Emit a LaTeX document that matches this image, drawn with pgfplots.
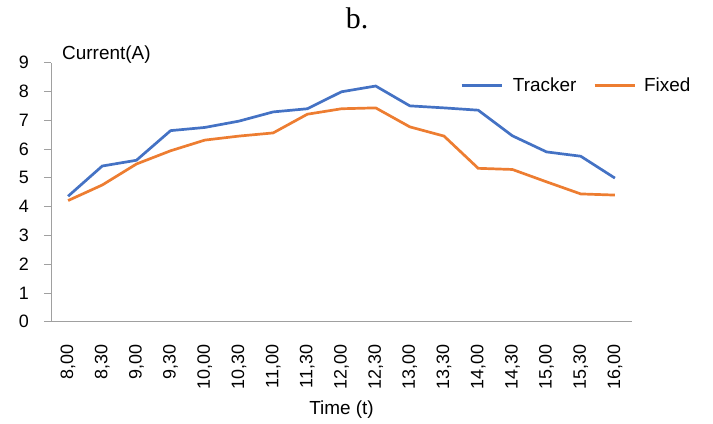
\documentclass[border=0pt]{standalone}
\usepackage{fontspec}
\setmainfont{Liberation Sans}
\newfontfamily\titleserif{Liberation Serif}
\usepackage{pgfplots}
\pgfplotsset{compat=1.18}
\definecolor{xblue}{HTML}{4472C4}
\definecolor{xorange}{HTML}{ED7D31}
\definecolor{axgray}{HTML}{A0A0A0}
\pgfplotstableread{
x tracker fixed
0 4.36 4.21
1 5.41 4.75
2 5.61 5.48
3 6.64 5.94
4 6.75 6.31
5 6.97 6.45
6 7.29 6.56
7 7.40 7.21
8 7.99 7.40
9 8.19 7.43
10 7.50 6.77
11 7.43 6.45
12 7.35 5.33
13 6.46 5.29
14 5.90 4.86
15 5.75 4.44
16 4.99 4.40
}\datatable
\begin{document}
\begin{tikzpicture}
\useasboundingbox (-51bp,-102.3bp) rectangle (662bp,321.7bp);
\begin{axis}[
  at={(0,0)}, anchor=south west,
  scale only axis, width=581bp, height=259bp,
  xmin=-0.5, xmax=16.5, ymin=0, ymax=9,
  xtick={0,...,16},
  xticklabels={{8,00},{8,30},{9,00},{9,30},{10,00},{10,30},{11,00},{11,30},{12,00},{12,30},{13,00},{13,30},{14,00},{14,30},{15,00},{15,30},{16,00}},
  ytick={0,...,9},
  axis x line*=bottom, axis y line*=left,
  axis line style={draw=axgray, line width=0.8bp, -},
  x axis line style={-}, y axis line style={-},
  tick align=outside,
  major tick length=7bp,
  xtick style={draw=none},
  ytick style={draw=axgray, line width=0.8bp},
  /pgf/number format/assume math mode=true,
  tick label style={font=\fontsize{18}{20}\selectfont, text=black},
  xticklabel style={rotate=90, anchor=east, inner sep=0pt},
  xticklabel shift=16bp,
  yticklabel style={anchor=east, inner sep=0pt},
  yticklabel shift=15bp,
  xlabel={Time (t)},
  xlabel style={at={(axis description cs:0.5,0)}, anchor=center, yshift=-88bp, font=\fontsize{19}{22}\selectfont},
  clip=false,
  legend columns=2,
  legend style={draw=none, fill=none, inner sep=0pt, at={(axis description cs:0.704,0.911)}, anchor=west,
    font=\fontsize{19}{22}\selectfont,
    /tikz/every even column/.append style={column sep=17bp},
    nodes={inner sep=0pt, outer sep=0pt}},
  legend image code/.code={\draw[#1] (0bp,0bp) -- (40bp,0bp);},
]
\addplot[xblue, line width=2.7bp] table[x=x, y=tracker]{\datatable};
\addlegendentry{\hspace{10bp}Tracker}
\addplot[xorange, line width=2.7bp] table[x=x, y=fixed]{\datatable};
\addlegendentry{\hspace{8bp}Fixed}
\node[anchor=west, inner sep=0pt, font=\fontsize{19}{22}\selectfont] at (axis description cs:0.019,1.031) {Current(A)};
\node[anchor=center, inner sep=0pt, font=\titleserif\fontsize{30}{34}\selectfont] at (axis description cs:0.527,1.17) {b.};
\end{axis}
\end{tikzpicture}
\end{document}
